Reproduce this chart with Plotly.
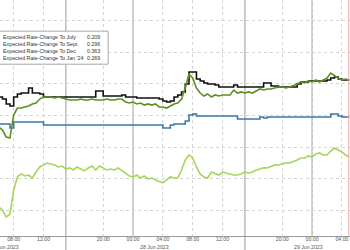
import pandas as pd
import plotly.graph_objects as go

# 30-minute observation times
times = pd.date_range("2023-06-27 06:00", periods=95, freq="30min")

july = [0.3117, 0.3104, 0.3073, 0.3060, 0.3117, 0.3136, 0.3142, 0.3142, 0.3174, 0.3142,
        0.3142, 0.3136, 0.3117, 0.3117, 0.3117, 0.3117, 0.3117, 0.3117, 0.3117, 0.3117,
        0.3117, 0.3117, 0.3117, 0.3117, 0.3117, 0.3117, 0.3155, 0.3155, 0.3123, 0.3123,
        0.3123, 0.3123, 0.3123, 0.3130, 0.3117, 0.3117, 0.3117, 0.3111, 0.3111, 0.3111,
        0.3111, 0.3111, 0.3111, 0.3104, 0.3092, 0.3085, 0.3092, 0.3117, 0.3130, 0.3149,
        0.3199, 0.3275, 0.3275, 0.3231, 0.3218, 0.3206, 0.3199, 0.3199, 0.3193, 0.3180,
        0.3180, 0.3180, 0.3180, 0.3193, 0.3180, 0.3180, 0.3180, 0.3180, 0.3180, 0.3180,
        0.3180, 0.3206, 0.3206, 0.3187, 0.3187, 0.3180, 0.3180, 0.3180, 0.3180, 0.3180,
        0.3199, 0.3212, 0.3212, 0.3218, 0.3218, 0.3218, 0.3218, 0.3218, 0.3225, 0.3237,
        0.3244, 0.3231, 0.3225, 0.3225, 0.3225]

sept = [0.2927, 0.2908, 0.2864, 0.2857, 0.3003, 0.3047, 0.3047, 0.3054, 0.3060, 0.3073,
        0.3079, 0.3104, 0.3117, 0.3117, 0.3117, 0.3111, 0.3117, 0.3111, 0.3104, 0.3098,
        0.3098, 0.3098, 0.3104, 0.3098, 0.3098, 0.3104, 0.3098, 0.3098, 0.3098, 0.3104,
        0.3098, 0.3098, 0.3104, 0.3104, 0.3085, 0.3079, 0.3085, 0.3073, 0.3079, 0.3066,
        0.3073, 0.3066, 0.3073, 0.3054, 0.3054, 0.3047, 0.3060, 0.3073, 0.3079, 0.3104,
        0.3174, 0.3263, 0.3237, 0.3174, 0.3142, 0.3123, 0.3136, 0.3117, 0.3130, 0.3123,
        0.3130, 0.3130, 0.3130, 0.3161, 0.3142, 0.3149, 0.3142, 0.3149, 0.3142, 0.3155,
        0.3168, 0.3161, 0.3168, 0.3168, 0.3174, 0.3180, 0.3180, 0.3174, 0.3180, 0.3187,
        0.3199, 0.3212, 0.3206, 0.3218, 0.3212, 0.3225, 0.3212, 0.3225, 0.3237, 0.3269,
        0.3250, 0.3237, 0.3225, 0.3231, 0.3225]

dec = [0.2946, 0.2946, 0.2946, 0.2921, 0.2959, 0.2959, 0.2959, 0.2959, 0.2959, 0.2959,
       0.2959, 0.2959, 0.2940, 0.2940, 0.2940, 0.2940, 0.2940, 0.2940, 0.2940, 0.2940,
       0.2940, 0.2940, 0.2940, 0.2940, 0.2940, 0.2940, 0.2940, 0.2940, 0.2940, 0.2940,
       0.2940, 0.2940, 0.2940, 0.2940, 0.2940, 0.2940, 0.2940, 0.2940, 0.2940, 0.2940,
       0.2940, 0.2940, 0.2940, 0.2940, 0.2921, 0.2921, 0.2940, 0.2946, 0.2946, 0.2946,
       0.2965, 0.3003, 0.3009, 0.2997, 0.2997, 0.2997, 0.2997, 0.2997, 0.2997, 0.2997,
       0.2997, 0.2997, 0.2997, 0.2997, 0.2978, 0.2978, 0.2978, 0.2978, 0.2978, 0.2978,
       0.2990, 0.2984, 0.2990, 0.2990, 0.2990, 0.2990, 0.2990, 0.2990, 0.2990, 0.2990,
       0.2990, 0.2990, 0.2990, 0.2990, 0.2990, 0.2990, 0.2990, 0.2990, 0.2990, 0.3009,
       0.3009, 0.2997, 0.2990, 0.2990, 0.2990]

jan24 = [0.2421, 0.2402, 0.2357, 0.2376, 0.2528, 0.2611, 0.2630, 0.2617, 0.2623, 0.2604,
         0.2642, 0.2674, 0.2687, 0.2699, 0.2693, 0.2687, 0.2674, 0.2680, 0.2661, 0.2668,
         0.2655, 0.2674, 0.2661, 0.2649, 0.2668, 0.2680, 0.2655, 0.2680, 0.2668, 0.2655,
         0.2661, 0.2655, 0.2668, 0.2649, 0.2630, 0.2617, 0.2611, 0.2623, 0.2604, 0.2617,
         0.2598, 0.2604, 0.2592, 0.2585, 0.2573, 0.2592, 0.2611, 0.2604, 0.2604, 0.2655,
         0.2718, 0.2750, 0.2731, 0.2674, 0.2630, 0.2611, 0.2604, 0.2642, 0.2630, 0.2623,
         0.2642, 0.2636, 0.2630, 0.2623, 0.2623, 0.2630, 0.2642, 0.2636, 0.2642, 0.2655,
         0.2661, 0.2668, 0.2668, 0.2680, 0.2687, 0.2687, 0.2693, 0.2699, 0.2699, 0.2706,
         0.2718, 0.2731, 0.2731, 0.2744, 0.2737, 0.2756, 0.2763, 0.2750, 0.2750, 0.2775,
         0.2794, 0.2781, 0.2769, 0.2750, 0.2737]

legend_names = ["Expected Rate-Change To July", "Expected Rate-Change To Sept",
                "Expected Rate-Change To Dec", "Expected Rate-Change To Jan '24"]
legend_values = ["0.209", "0.296", "0.363", "0.269"]

tick_times = ["2023-06-27 08:00", "2023-06-27 12:00", "2023-06-27 20:00", "2023-06-28 00:00",
              "2023-06-28 04:00", "2023-06-28 08:00", "2023-06-28 12:00", "2023-06-28 20:00",
              "2023-06-29 00:00", "2023-06-29 04:00"]
tick_text = ["08:00", "12:00", "20:00", "00:00", "04:00", "08:00", "12:00", "20:00", "00:00", "04:00"]
midnights = ["2023-06-28 00:00", "2023-06-29 00:00"]
session_breaks = ["2023-06-27 15:00", "2023-06-28 15:00"]
date_labels = [("2023-06-28 02:50", "28 Jun 2023"), ("2023-06-28 23:35", "29 Jun 2023")]

FONT = "Liberation Sans"

fig = go.Figure()
fig.add_trace(go.Scatter(x=times, y=dec, mode="lines", name=legend_names[2],
                         line=dict(color="#3f78a6", width=1.6, shape="hv")))
fig.add_trace(go.Scatter(x=times, y=jan24, mode="lines", name=legend_names[3],
                         line=dict(color="#a5d65a", width=1.6)))
fig.add_trace(go.Scatter(x=times, y=july, mode="lines", name=legend_names[0],
                         line=dict(color="#111111", width=1.6, shape="hv")))
fig.add_trace(go.Scatter(x=times, y=sept, mode="lines", name=legend_names[1],
                         line=dict(color="#5f8f22", width=1.6)))

shapes = []
for m in midnights:
    shapes.append(dict(type="line", xref="x", yref="paper", x0=m, x1=m, y0=0, y1=1,
                       line=dict(color="#9a9a9a", width=1), layer="below"))
for s in session_breaks:
    shapes.append(dict(type="line", xref="x", yref="paper", x0=s, x1=s, y0=-0.07, y1=1,
                       line=dict(color="#9a9a9a", width=1), layer="below"))
# current time marker
shapes.append(dict(type="line", xref="x", yref="paper", x0="2023-06-29 04:55", x1="2023-06-29 04:55",
                   y0=0, y1=1, line=dict(color="#f3a6a6", width=1)))
# legend box
shapes.append(dict(type="rect", xref="paper", yref="paper", x0=-0.01, x1=0.309, y0=0.728, y1=0.868,
                   line=dict(color="#a8a8a8", width=1), fillcolor="white", layer="above"))

annotations = [
    dict(xref="paper", yref="paper", x=0.004, y=0.798, xanchor="left", yanchor="middle",
         text="<br>".join(legend_names), showarrow=False, align="left",
         font=dict(family=FONT, size=5.3, color="#333333")),
    dict(xref="paper", yref="paper", x=0.292, y=0.798, xanchor="right", yanchor="middle",
         text="<br>".join(legend_values), showarrow=False, align="right",
         font=dict(family=FONT, size=5.3, color="#333333")),
    dict(xref="paper", yref="paper", x=21 / 350, y=-0.047, xanchor="right", yanchor="middle",
         text="27 Jun 2023", showarrow=False,
         font=dict(family=FONT, size=5.2, color="#555555")),
]
for xd, txt in date_labels:
    annotations.append(dict(xref="x", yref="paper", x=xd, y=-0.047, xanchor="center", yanchor="middle",
                            text=txt, showarrow=False,
                            font=dict(family=FONT, size=5.2, color="#555555")))

fig.update_layout(
    width=350, height=250,
    margin=dict(l=0, r=0, t=0, b=14),
    paper_bgcolor="white", plot_bgcolor="white",
    showlegend=False,
    shapes=shapes, annotations=annotations,
    xaxis=dict(type="date", range=["2023-06-27 06:10", "2023-06-29 05:05"],
               tickmode="array", tickvals=tick_times, ticktext=tick_text,
               showgrid=True, gridcolor="#d4d4d4", griddash="dot", gridwidth=1,
               showline=True, linecolor="#9a9a9a", linewidth=1,
               ticks="", ticklabelstandoff=-2,
               tickfont=dict(family=FONT, size=5.2, color="#555555"),
               zeroline=False),
    yaxis=dict(range=[0.2237, 0.3731], tick0=0.24, dtick=0.02, showticklabels=False,
               showgrid=True, gridcolor="#d4d4d4", griddash="dot", gridwidth=1,
               zeroline=False, ticks=""),
)

fig.write_html("out.html")
